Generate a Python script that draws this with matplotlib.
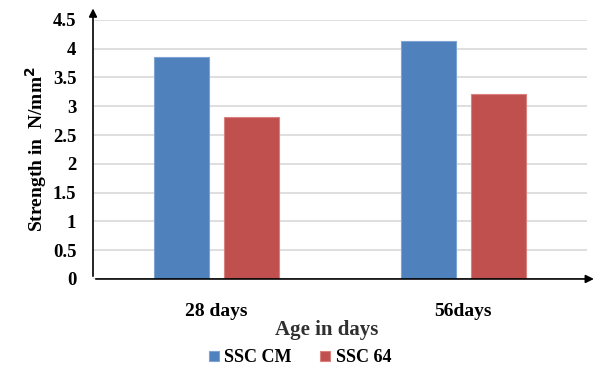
import numpy as np
import matplotlib.pyplot as plt

# data
categories = ["28 days", "56days"]
ssc_cm = [3.86, 4.14]
ssc_64 = [2.82, 3.21]
yticks = [0, 0.5, 1, 1.5, 2, 2.5, 3, 3.5, 4, 4.5]
ytick_labels = ["0", "0.5", "1", "1.5", "2", "2.5", "3", "3.5", "4", "4.5"]

plt.rcParams['font.family'] = ['Liberation Serif', 'DejaVu Serif']
plt.rcParams['font.weight'] = 'bold'

fig = plt.figure(figsize=(6, 3.69), dpi=100)
ax = fig.add_axes([0.155, 0.244, 0.823, 0.702])

x = np.arange(len(categories))
w = 0.223
off = 0.1425
ax.bar(x - off, ssc_cm, w, color='#4F81BD', edgecolor='#7FA3D3', linewidth=0.8, label='SSC CM', zorder=3)
ax.bar(x + off, ssc_64, w, color='#C0504D', edgecolor='#D9817F', linewidth=0.8, label='SSC 64', zorder=3)

ax.set_xlim(-0.5, 1.5)
ax.set_ylim(0, 4.5)
ax.set_yticks(yticks)
ax.set_yticklabels(ytick_labels, fontsize=13.5, fontweight='bold')
ax.set_xticks(x)
ax.set_xticklabels(categories, fontsize=14, fontweight='bold')
ax.tick_params(axis='both', length=0)
ax.tick_params(axis='x', pad=17)
ax.tick_params(axis='y', pad=12)
ax.yaxis.grid(True, color='#D9D9D9', linewidth=1.2, zorder=0)

for s in ax.spines.values():
    s.set_visible(False)

# arrows for axes
ax.annotate('', xy=(0, 1.055), xytext=(0, 0), xycoords='axes fraction',
            arrowprops=dict(arrowstyle='-|>', color='black', lw=1.2, mutation_scale=12),
            annotation_clip=False)
ax.annotate('', xy=(1.02, 0), xytext=(0, 0), xycoords='axes fraction',
            arrowprops=dict(arrowstyle='-|>', color='black', lw=1.2, mutation_scale=12),
            annotation_clip=False)

ax.set_ylabel("Strength in  N/mm$^\\mathbf{2}$", fontsize=14, fontweight='bold', labelpad=3)
fig.text(0.545, 0.105, "Age in days", ha='center', va='center', fontsize=15,
         fontweight='bold', color='#303030')

leg = fig.legend(loc='center', bbox_to_anchor=(0.5, 0.03), ncol=2, frameon=False,
                 handlelength=0.55, handleheight=0.55, columnspacing=1.6,
                 handletextpad=0.3, prop={'weight': 'bold', 'size': 13})

fig.savefig('out.png', dpi=100)
